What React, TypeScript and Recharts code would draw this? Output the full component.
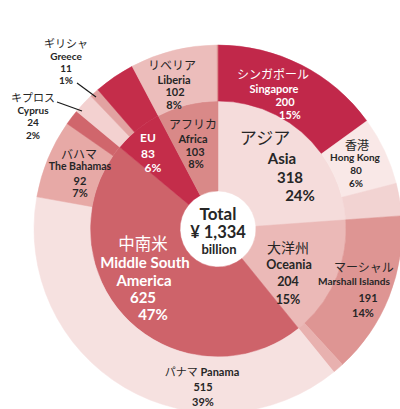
import React from 'react';
import { PieChart, Pie, Cell } from 'recharts';

// ---------- data ----------
const TOTAL = 1334;
const totalLines = ['Total', '¥ 1,334', 'billion'];

const regionNames = ['Asia', 'Oceania', 'Middle South America', 'EU', 'Africa'];
const regionNamesJa = ['アジア', '大洋州', '中南米', '', 'アフリカ'];
const regionValues = [318, 204, 625, 83, 103];

const countryNames = [
  'Singapore', 'Hong Kong', 'Other Asia',
  'Marshall Islands', 'Other Oceania',
  'Panama', 'The Bahamas', 'Other Middle South America',
  'Cyprus', 'Greece', 'Other EU',
  'Liberia', 'Other Africa',
];
const countryNamesJa = [
  'シンガポール', '香港', '',
  'マーシャル', '',
  'パナマ', 'バハマ', '',
  'キプロス', 'ギリシャ', '',
  'リベリア', '',
];
const countryValues = [200, 80, 38, 191, 13, 515, 92, 18, 24, 11, 48, 102, 1];

// ---------- styles ----------
const regionColors = ['#f5dcdb', '#ebb9b7', '#ce636a', '#c42d4a', '#d98988'];
const countryColors = [
  '#c1284a', '#f9e8e7', '#f2d3d2',
  '#de9593', '#e8b1af',
  '#f6e1e0', '#e7a9a6', '#d0666c',
  '#f3d1d0', '#e2a2a1', '#c42d4a',
  '#ecbdbb', '#d98988',
];

const FONT = 'Lato, "Noto Sans CJK JP", sans-serif';
const JA_FONT = '"Noto Sans CJK JP", sans-serif';
const DARK = '#262626';

type Line = { k: string; x: number; y: number; s: number; len?: number };
type Layout = { color: string; lines: Line[]; leader?: number[] };

const layouts: Record<string, Layout> = {
  Asia: { color: DARK, lines: [
    { k: 'ja', x: 265, y: 136, s: 17 },
    { k: 'en', x: 282, y: 158, s: 15 },
    { k: 'v', x: 290, y: 177, s: 15 },
    { k: 'p', x: 300, y: 195, s: 15 },
  ] },
  Oceania: { color: DARK, lines: [
    { k: 'ja', x: 288, y: 247, s: 14 },
    { k: 'en', x: 289, y: 264, s: 12.5 },
    { k: 'v', x: 288, y: 281, s: 12.5 },
    { k: 'p', x: 288, y: 299, s: 12.5 },
  ] },
  'Middle South America': { color: '#ffffff', lines: [
    { k: 'ja', x: 143, y: 243, s: 16.5 },
    { k: 'en1', x: 145, y: 262, s: 15 },
    { k: 'en2', x: 144, y: 280, s: 15 },
    { k: 'v', x: 143, y: 297, s: 15 },
    { k: 'p', x: 153, y: 314, s: 15 },
  ] },
  EU: { color: '#ffffff', lines: [
    { k: 'en', x: 148, y: 137, s: 12 },
    { k: 'v', x: 148, y: 153, s: 12 },
    { k: 'p', x: 153, y: 167, s: 12 },
  ] },
  Africa: { color: DARK, lines: [
    { k: 'ja', x: 193, y: 123, s: 12 },
    { k: 'en', x: 193, y: 138, s: 11 },
    { k: 'v', x: 195, y: 151, s: 11 },
    { k: 'p', x: 196, y: 163, s: 11 },
  ] },
  Singapore: { color: '#ffffff', lines: [
    { k: 'ja', x: 273, y: 73, s: 12 },
    { k: 'en', x: 274, y: 88, s: 11 },
    { k: 'v', x: 285, y: 101, s: 11 },
    { k: 'p', x: 290, y: 114, s: 11 },
  ] },
  'Hong Kong': { color: DARK, lines: [
    { k: 'ja', x: 357, y: 144, s: 12 },
    { k: 'en', x: 355, y: 157, s: 10 },
    { k: 'v', x: 356, y: 170, s: 10 },
    { k: 'p', x: 356, y: 183, s: 10 },
  ] },
  'Marshall Islands': { color: DARK, lines: [
    { k: 'ja', x: 364, y: 266, s: 12 },
    { k: 'en', x: 354, y: 281, s: 10, len: 72 },
    { k: 'v', x: 368, y: 297, s: 11 },
    { k: 'p', x: 363, y: 312, s: 11 },
  ] },
  Panama: { color: DARK, lines: [
    { k: 'jaen', x: 202, y: 371, s: 11 },
    { k: 'v', x: 203, y: 386, s: 11 },
    { k: 'p', x: 203, y: 401, s: 11 },
  ] },
  'The Bahamas': { color: DARK, lines: [
    { k: 'ja', x: 79, y: 153, s: 12 },
    { k: 'en', x: 80, y: 166, s: 10.5 },
    { k: 'v', x: 80, y: 180, s: 11 },
    { k: 'p', x: 80, y: 192, s: 11 },
  ] },
  Cyprus: { color: DARK, leader: [57, 102, 82, 111], lines: [
    { k: 'ja', x: 33, y: 97, s: 11 },
    { k: 'en', x: 33, y: 110, s: 10 },
    { k: 'v', x: 33, y: 122, s: 10 },
    { k: 'p', x: 33, y: 135, s: 10 },
  ] },
  Greece: { color: DARK, leader: [77, 83, 96, 97], lines: [
    { k: 'ja', x: 66, y: 43, s: 11 },
    { k: 'en', x: 66, y: 56, s: 10 },
    { k: 'v', x: 66, y: 68, s: 10 },
    { k: 'p', x: 66, y: 80, s: 10 },
  ] },
  Liberia: { color: DARK, lines: [
    { k: 'ja', x: 172, y: 64, s: 12 },
    { k: 'en', x: 174, y: 79, s: 11 },
    { k: 'v', x: 175, y: 91, s: 11 },
    { k: 'p', x: 174, y: 104, s: 11 },
  ] },
};

function renderLabel(names: string[], namesJa: string[], values: number[]) {
  return (props: any) => {
    const i = props.index;
    const name = names[i];
    const layout = layouts[name];
    if (!layout) return null;
    const ja = namesJa[i];
    const value = values[i];
    const sp = name.lastIndexOf(' ');
    return (
      <g>
        {layout.leader && (
          <line x1={layout.leader[0]} y1={layout.leader[1]} x2={layout.leader[2]} y2={layout.leader[3]}
            stroke="#1a1a1a" strokeWidth={1.2} />
        )}
        {layout.lines.map((l, j) => {
          const common: any = {
            key: j, x: l.x, y: l.y, textAnchor: 'middle', dominantBaseline: 'central',
            fill: layout.color, fontSize: l.s,
          };
          if (l.k === 'jaen') {
            return (
              <text {...common}>
                <tspan fontFamily={JA_FONT} fontWeight={400}>{ja}</tspan>
                <tspan fontFamily={FONT} fontWeight={700}>{' ' + name}</tspan>
              </text>
            );
          }
          let t = '';
          if (l.k === 'ja') t = ja;
          else if (l.k === 'en') t = name;
          else if (l.k === 'en1') t = name.slice(0, sp);
          else if (l.k === 'en2') t = name.slice(sp + 1);
          else if (l.k === 'v') t = String(value);
          else if (l.k === 'p') t = Math.round((value / TOTAL) * 100) + '%';
          const isJa = l.k === 'ja';
          return (
            <text {...common} fontFamily={isJa ? JA_FONT : FONT} fontWeight={isJa ? 400 : 700}
              {...(l.len ? { textLength: l.len, lengthAdjust: 'spacingAndGlyphs' } : {})}>
              {t}
            </text>
          );
        })}
      </g>
    );
  };
}

const regionData = regionNames.map((n, i) => ({ name: n, value: regionValues[i] }));
const countryData = countryNames.map((n, i) => ({ name: n, value: countryValues[i] }));

const CX = 218;
const CY = 229;

export default function App() {
  return (
    <div style={{ position: 'absolute', left: 0, top: 0, width: 400, height: 409, background: '#fff' }}>
      <PieChart width={400} height={409} margin={{ top: 0, right: 0, bottom: 0, left: 0 }}>
        <Pie data={regionData} dataKey="value" nameKey="name" cx={CX} cy={CY}
          innerRadius={38} outerRadius={128} startAngle={90} endAngle={-270}
          isAnimationActive={false} labelLine={false}
          label={renderLabel(regionNames, regionNamesJa, regionValues)}>
          {regionData.map((_, i) => (
            <Cell key={i} fill={regionColors[i]} stroke={regionColors[i]} strokeWidth={0.5} />
          ))}
        </Pie>
        <Pie data={countryData} dataKey="value" nameKey="name" cx={CX} cy={CY}
          innerRadius={128} outerRadius={184} startAngle={90} endAngle={-270}
          isAnimationActive={false} labelLine={false}
          label={renderLabel(countryNames, countryNamesJa, countryValues)}>
          {countryData.map((_, i) => (
            <Cell key={i} fill={countryColors[i]} stroke={countryColors[i]} strokeWidth={0.5} />
          ))}
        </Pie>
        <g>
          <text x={CX} y={213} textAnchor="middle" dominantBaseline="central" fontFamily={FONT}
            fontWeight={700} fontSize={17} fill={DARK}>{totalLines[0]}</text>
          <text x={CX} y={232} textAnchor="middle" dominantBaseline="central" fontFamily={FONT}
            fontWeight={700} fontSize={16.5} fill={DARK}>{totalLines[1]}</text>
          <text x={CX + 1} y={249} textAnchor="middle" dominantBaseline="central" fontFamily={FONT}
            fontWeight={700} fontSize={13} fill={DARK}>{totalLines[2]}</text>
        </g>
      </PieChart>
    </div>
  );
}
